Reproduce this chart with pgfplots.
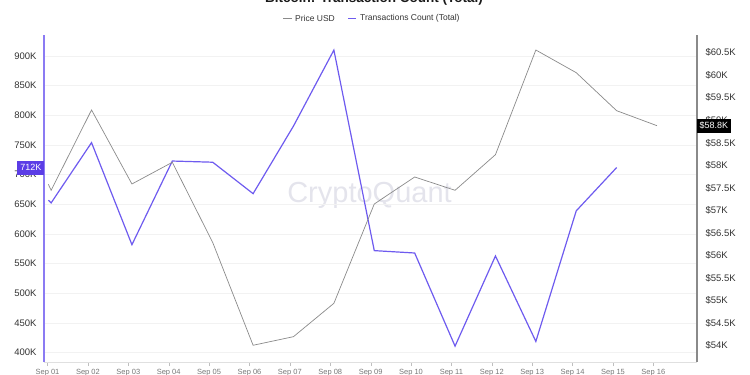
\documentclass[border=0pt]{standalone}
\usepackage{fontspec}
\setmainfont{Liberation Sans}
\usepackage{pgfplots}
\pgfplotsset{compat=1.18}
\definecolor{txpurple}{HTML}{6E5BEF}
\definecolor{axpurple}{HTML}{8B7BF3}
\definecolor{boxpurple}{HTML}{5B3DE6}
\definecolor{pricegray}{HTML}{8A8A8A}
\definecolor{gridc}{HTML}{F2F2F2}
\definecolor{labc}{HTML}{333333}
\definecolor{xlabc}{HTML}{777777}
\definecolor{wm}{HTML}{E4E4EC}
\begin{document}
\begin{tikzpicture}[x=1pt,y=1pt]
\useasboundingbox (0,0) rectangle (750,375);
\clip (0,0) rectangle (750,375);
\node[text=wm, font=\fontsize{29}{30}\selectfont] at (369.5,180) {CryptoQuant};
\begin{axis}[at={(44pt,13pt)}, anchor=south west, scale only axis,
  width=653pt, height=327pt,
  xmin=0.913, xmax=17.08, ymin=384300, ymax=935400,
  scaled y ticks=false,
  axis x line*=bottom, axis y line*=left,
  x axis line style={draw=black!12, line width=0.8pt},
  y axis line style={draw=axpurple, line width=1.6pt},
  xtick={1,2,...,16},
  xticklabels={Sep 01,Sep 02,Sep 03,Sep 04,Sep 05,Sep 06,Sep 07,Sep 08,Sep 09,Sep 10,Sep 11,Sep 12,Sep 13,Sep 14,Sep 15,Sep 16},
  tick align=outside, major tick length=4pt,
  xtick style={draw=black!25},
  ytick style={draw=none},
  ytick={400000,450000,500000,550000,600000,650000,700000,750000,800000,850000,900000},
  yticklabels={400K,450K,500K,550K,600K,650K,700K,750K,800K,850K,900K},
  ymajorgrids, grid style={draw=gridc, line width=0.8pt},
  yticklabel style={font=\fontsize{9.5}{10}\selectfont, text=labc},
  xticklabel style={font=\fontsize{7.5}{8}\selectfont, text=xlabc},
  clip=false]
\addplot[txpurple, line width=1.2pt] coordinates {
(1.02,657000) (1.09,652500) (2.09,754000) (3.09,582000) (4.09,723000)
(5.09,721000) (6.09,668000) (7.09,782000) (8.09,910000) (9.09,572000)
(10.09,568000) (11.09,411000) (12.09,563000) (13.09,419000) (14.09,639000)
(15.09,712000)};
\coordinate (lastT) at (axis cs:15.09,712000);
\end{axis}
\begin{axis}[at={(44pt,13pt)}, anchor=south west, scale only axis,
  width=653pt, height=327pt,
  xmin=0.913, xmax=17.08, ymin=53638, ymax=60892,
  scaled y ticks=false,
  axis x line=none, axis y line*=right,
  y axis line style={draw=pricegray, line width=1.6pt},
  major tick length=0pt,
  ytick style={draw=none},
  ytick={54000,54500,55000,55500,56000,56500,57000,57500,58000,58500,59000,59500,60000,60500},
  yticklabels={\$54K,\$54.5K,\$55K,\$55.5K,\$56K,\$56.5K,\$57K,\$57.5K,\$58K,\$58.5K,\$59K,\$59.5K,\$60K,\$60.5K},
  yticklabel style={font=\fontsize{9.5}{10}\selectfont, text=labc, xshift=5pt},
  clip=false]
\addplot[pricegray, line width=0.7pt] coordinates {
(1.02,57580) (1.09,57447) (2.09,59229) (3.09,57587) (4.09,58068)
(5.09,56289) (6.09,54009) (7.09,54200) (8.09,54940) (9.09,57143)
(10.09,57742) (11.09,57447) (12.09,58237) (13.09,60559) (14.09,60056)
(15.09,59213) (16.09,58880)};
\coordinate (lastP) at (axis cs:16.09,58880);
\end{axis}
\coordinate (L) at (44.5,0);
\coordinate (R) at (696.5,0);
\node[fill=boxpurple, text=white, anchor=east, inner xsep=3pt, inner ysep=0pt, minimum height=14pt, font=\fontsize{9}{10}\selectfont] at (L |- lastT) {712K};
\node[fill=black, text=white, anchor=west, inner xsep=3pt, inner ysep=0pt, minimum height=14pt, font=\fontsize{9}{10}\selectfont] at (R |- lastP) {\$58.8K};
% title and legend
\node[anchor=base, font=\bfseries\fontsize{13.5}{16}\selectfont, text=black!90] at (374,372) {Bitcoin: Transaction Count (Total)};
\draw[pricegray, line width=0.8pt] (283,357) -- (292,357);
\node[anchor=west, inner sep=0pt, font=\fontsize{8.5}{10}\selectfont, text=labc] at (295,357) {Price USD};
\draw[txpurple, line width=0.8pt] (348,357) -- (356,357);
\node[anchor=west, inner sep=0pt, font=\fontsize{8.5}{10}\selectfont, text=labc] at (360,357) {Transactions Count (Total)};
\end{tikzpicture}
\end{document}
